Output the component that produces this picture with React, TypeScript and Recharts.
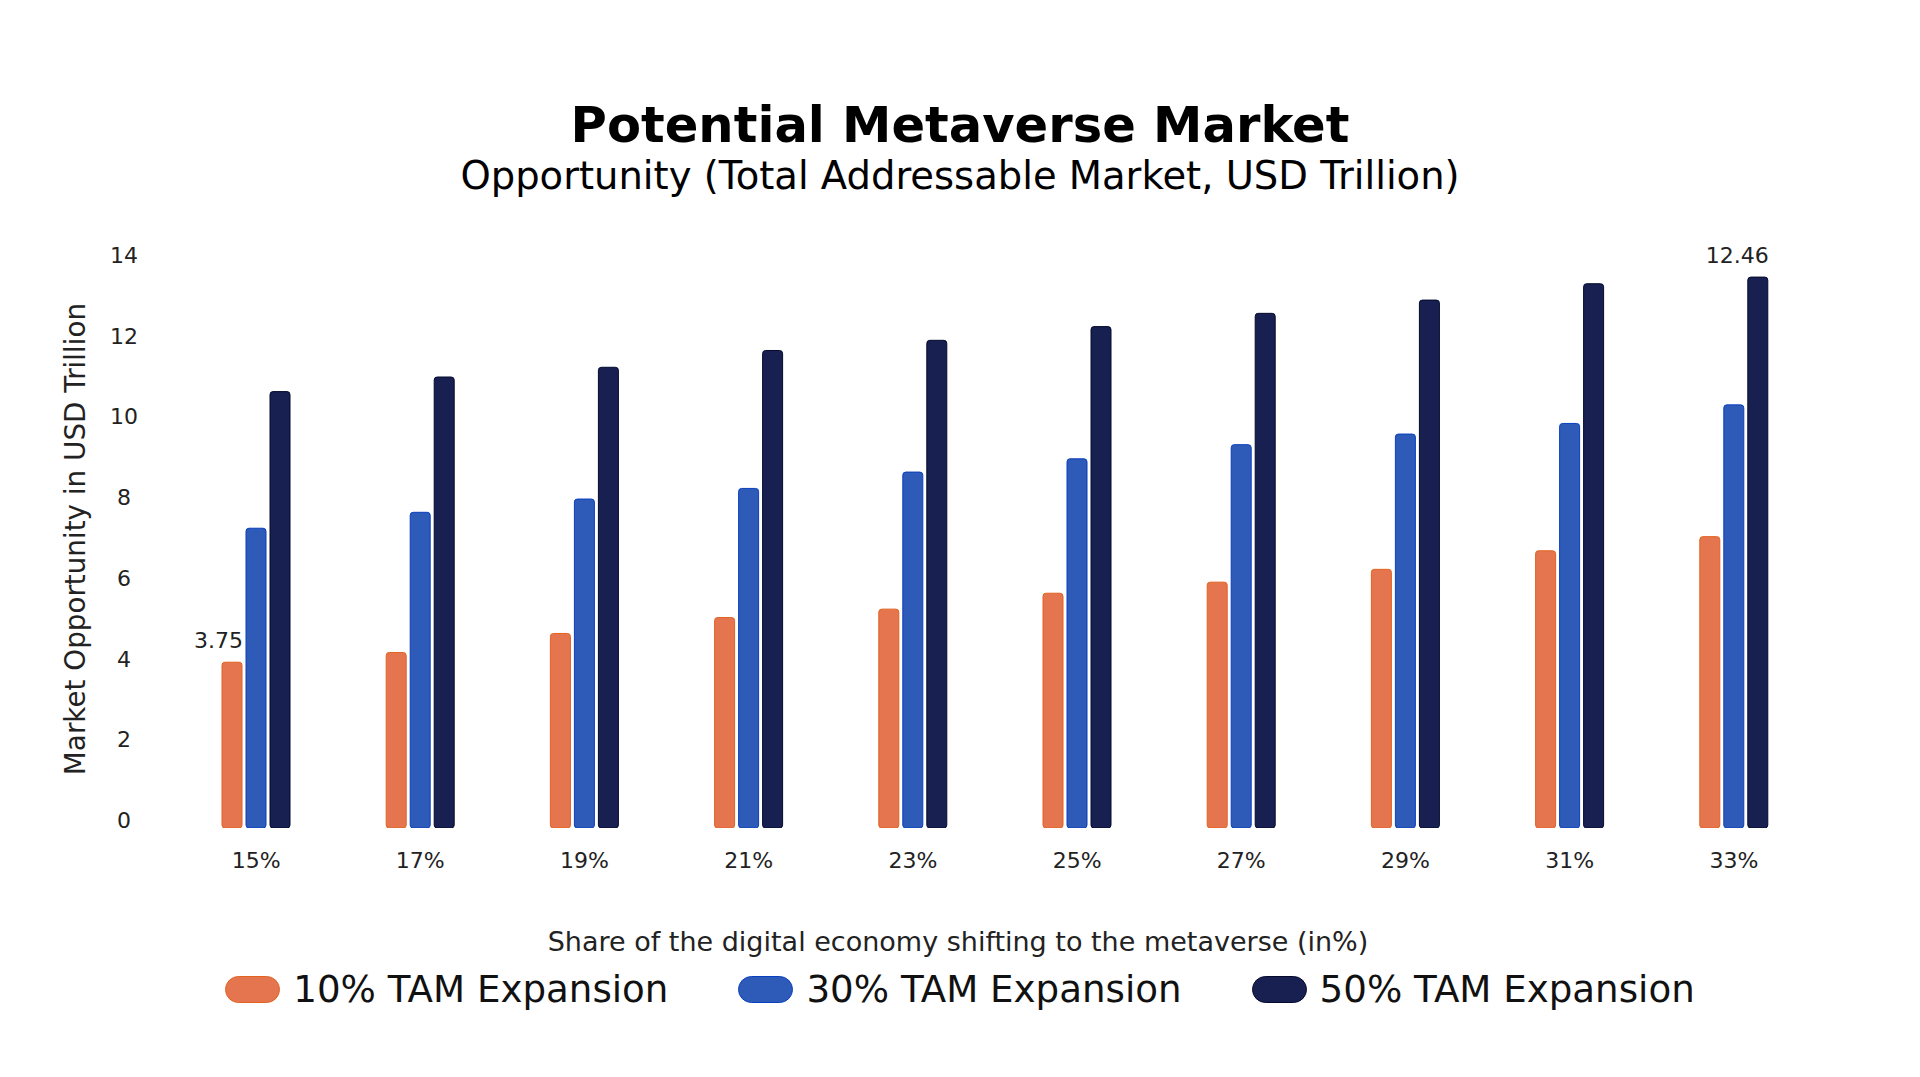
import React from 'react';
import { BarChart, Bar, XAxis, YAxis, LabelList } from 'recharts';

const categories = ['15%', '17%', '19%', '21%', '23%', '25%', '27%', '29%', '31%', '33%'];
const tam10 = [3.75, 3.97, 4.4, 4.76, 4.95, 5.31, 5.56, 5.85, 6.27, 6.59];
const tam30 = [6.78, 7.14, 7.44, 7.68, 8.05, 8.35, 8.67, 8.91, 9.15, 9.57];
const tam50 = [9.87, 10.2, 10.42, 10.8, 11.03, 11.34, 11.64, 11.94, 12.31, 12.46];
const yTicks = [0, 2, 4, 6, 8, 10, 12, 14];
const seriesNames = ['10% TAM Expansion', '30% TAM Expansion', '50% TAM Expansion'];
const seriesKeys = ['tam10', 'tam30', 'tam50'];
const fills = ['#E5754F', '#2E5BB7', '#172050'];
const strokes = ['#E2621F', '#0A3FC0', '#050A2C'];

const data = categories.map((c, i) => ({ cat: c, tam10: tam10[i], tam30: tam30[i], tam50: tam50[i] }));

const FONT = "'DejaVu Sans', sans-serif";

const YTick = (props: any) => {
  const { x, y, payload } = props;
  return (
    <text x={x - 50} y={y + 8} textAnchor="middle" fontFamily={FONT} fontSize={22} fill="#222">
      {payload.value}
    </text>
  );
};

const XTick = (props: any) => {
  const { x, y, payload } = props;
  return (
    <text x={x} y={y + 40} textAnchor="middle" fontFamily={FONT} fontSize={22} fill="#222">
      {payload.value}
    </text>
  );
};

const makeLabel = (showIndex: number) => (props: any) => {
  const { x, y, width, value, index } = props;
  if (index !== showIndex) return null;
  return (
    <text x={x + width + 1} y={y - 14} textAnchor="end" fontFamily={FONT} fontSize={22} fill="#222">
      {value}
    </text>
  );
};

export default function App() {
  return (
    <div style={{ position: 'relative', width: 1920, height: 1077, background: '#fff' }}>
      <style>{`body{margin:0;background:#fff;}`}</style>
      <BarChart
        width={1920}
        height={1077}
        data={data}
        margin={{ top: 209, right: 104, left: 64, bottom: 219 }}
        barGap={4}
        barSize={20}
      >
        <XAxis
          dataKey="cat"
          height={30}
          axisLine={false}
          tickLine={false}
          tickSize={0}
          tickMargin={0}
          tick={<XTick />}
          interval={0}
        />
        <YAxis yAxisId="bars" hide width={0} domain={[0, 14]} type="number" allowDataOverflow />
        <YAxis
          yAxisId="ticks"
          width={110}
          type="number"
          domain={[0, 14]}
          ticks={yTicks}
          interval={0}
          allowDataOverflow
          padding={{ top: 46, bottom: 8 }}
          axisLine={false}
          tickLine={false}
          tickSize={0}
          tickMargin={0}
          tick={<YTick />}
        />
        {seriesKeys.map((k, i) => (
          <Bar
            key={k}
            yAxisId="bars"
            dataKey={k}
            name={seriesNames[i]}
            fill={fills[i]}
            stroke={strokes[i]}
            strokeWidth={1}
            radius={3}
            isAnimationActive={false}
          >
            {i === 0 && <LabelList dataKey={k} content={makeLabel(0)} />}
            {i === 2 && <LabelList dataKey={k} content={makeLabel(categories.length - 1)} />}
          </Bar>
        ))}
      </BarChart>
      <svg
        width={1920}
        height={1077}
        style={{ position: 'absolute', left: 0, top: 0, pointerEvents: 'none' }}
      >
        <text x={960} y={142} textAnchor="middle" fontFamily={FONT} fontWeight="bold" fontSize={49.6} fill="#000">
          Potential Metaverse Market
        </text>
        <text x={960} y={189} textAnchor="middle" fontFamily={FONT} fontSize={38.5} fill="#000">
          Opportunity (Total Addressable Market, USD Trillion)
        </text>
        <text
          x={75}
          y={539}
          transform="rotate(-90 75 539)"
          textAnchor="middle"
          dominantBaseline="central"
          fontFamily={FONT}
          fontSize={27.8}
          fill="#222"
        >
          Market Opportunity in USD Trillion
        </text>
        <text x={958} y={951} textAnchor="middle" fontFamily={FONT} fontSize={27} fill="#222">
          Share of the digital economy shifting to the metaverse (in%)
        </text>
      </svg>
      <div
        style={{
          position: 'absolute',
          left: 0,
          top: 966,
          width: 1920,
          height: 46,
          display: 'flex',
          justifyContent: 'center',
          alignItems: 'center',
          gap: 70,
          fontFamily: FONT,
          fontSize: 37.2,
          color: '#111',
        }}
      >
        {seriesNames.map((n, i) => (
          <div key={n} style={{ display: 'flex', alignItems: 'center', gap: 13 }}>
            <div
              style={{
                width: 55,
                height: 27,
                borderRadius: 14,
                background: fills[i],
                border: `1px solid ${strokes[i]}`,
                boxSizing: 'border-box',
              }}
            />
            <span style={{ lineHeight: '46px', whiteSpace: 'nowrap' }}>{n}</span>
          </div>
        ))}
      </div>
    </div>
  );
}
